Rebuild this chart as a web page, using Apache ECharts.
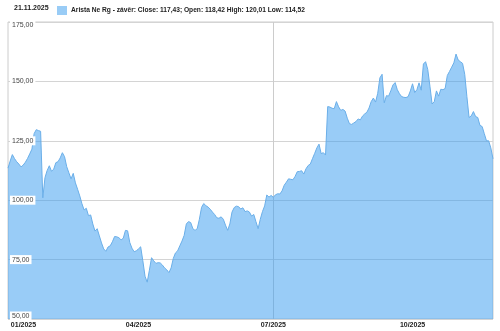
<!DOCTYPE html>
<html><head><meta charset="utf-8">
<script src="https://cdn.jsdelivr.net/npm/echarts@6/dist/echarts.min.js"></script>
<style>html,body{margin:0;padding:0;background:#fff}#c{width:500px;height:331px}</style>
</head><body><div id="c"></div>
<script>
const titleDate = '21.11.2025';
const seriesName = 'Arista Ne Rg - závěr: Close: 117,43; Open: 118,42 High: 120,01 Low: 114,52';
const firstDay = '2025-01-02';
const lastDay = '2025-11-21';
const marketHolidays = ['2025-01-09','2025-01-20','2025-02-17','2025-04-18','2025-05-26','2025-06-19','2025-07-04','2025-09-01'];
const labelMonths = ['01','04','07','10'];
const gridMonths = ['07'];
const closeValues = [
113.5,116.5,119.2,117.5,116.2,115.2,114.0,114.8,116.0,117.6,
119.5,121.5,128.0,129.7,129.3,129.0,101.0,109.5,112.5,114.5,
112.2,113.0,115.8,116.2,117.8,120.0,118.3,114.1,111.5,109.0,
111.3,107.3,104.6,101.8,98.5,95.9,96.6,93.5,93.8,90.0,
87.0,88.0,85.0,82.0,79.5,78.5,80.3,80.8,82.5,84.7,
84.6,84.2,83.3,84.0,87.3,87.1,82.2,79.8,78.3,78.7,
79.5,80.4,74.5,68.0,65.5,70.5,75.8,74.5,73.4,73.7,
73.6,72.7,71.5,70.7,69.5,71.5,75.5,77.8,78.7,80.8,
82.8,85.2,90.0,91.0,90.6,88.0,87.3,88.0,92.0,97.0,
98.6,97.7,97.1,96.2,95.0,94.0,92.6,92.4,93.0,92.0,
89.5,87.3,90.0,95.0,96.9,97.5,97.3,96.3,96.8,95.2,
95.5,95.0,93.3,94.0,91.0,88.0,92.0,95.2,97.6,102.2,
101.3,102.0,101.2,102.3,102.7,102.6,103.9,106.3,107.6,109.0,
108.8,108.6,110.0,112.0,112.1,112.4,111.0,113.2,114.6,115.2,
117.5,119.7,122.0,123.6,119.6,120.0,119.0,139.4,139.2,138.7,
138.5,141.5,139.3,137.8,138.2,137.5,134.5,132.2,131.9,132.5,
133.1,134.2,133.8,135.4,136.3,137.0,138.8,141.5,143.0,141.3,
145.0,151.5,153.0,141.0,144.0,143.8,146.0,148.5,149.5,146.5,
144.8,143.6,143.3,143.2,143.6,146.0,149.0,145.3,146.5,149.4,
146.3,157.3,158.3,155.0,148.0,140.5,141.5,146.0,143.8,146.7,
146.5,147.0,152.5,154.2,156.0,157.8,161.5,159.0,158.3,157.6,
153.0,143.6,134.8,135.5,137.3,135.2,134.8,131.5,131.0,128.0,
125.0,125.0,122.0,117.43];
const yMin = 50, yMax = 175, yStep = 25;

// trading-day categories
const dates = [];
(function(){
  let d = new Date(firstDay + 'T00:00:00Z');
  const end = new Date(lastDay + 'T00:00:00Z');
  while (d <= end) {
    const s = d.toISOString().slice(0,10);
    const wd = d.getUTCDay();
    if (wd !== 0 && wd !== 6 && marketHolidays.indexOf(s) < 0) dates.push(s);
    d = new Date(d.getTime() + 86400000);
  }
})();
function isMonthStart(i){ return i === 0 || dates[i].slice(5,7) !== dates[i-1].slice(5,7); }

const FONT = '"Liberation Sans", Arial, sans-serif';
const yLab = { fontFamily: FONT, fontSize: 7, color: '#444', backgroundColor: '#fff', padding: [1,2,1,2] };
const chart = echarts.init(document.getElementById('c'), null, {renderer:'canvas'});
chart.setOption({
  animation: false,
  title: { text: titleDate, left: 14, top: 5, padding: 0,
    textStyle: { fontFamily: FONT, fontSize: 7, fontWeight: 'bold', color: '#222' } },
  legend: { left: 57, top: 6, padding: 0, itemGap: 4, itemWidth: 10, itemHeight: 9,
    data: [{ name: seriesName, icon: 'rect', itemStyle: { color: '#99ccf6' } }],
    textStyle: { fontFamily: FONT, fontSize: 6.65, fontWeight: 'bold', color: '#222', padding: [0,0,0,-1] } },
  grid: { left: 8, right: 7, top: 22, bottom: 12, show: true, borderColor: '#cccccc', borderWidth: 1 },
  xAxis: {
    type: 'category', data: dates, boundaryGap: false,
    axisLine: { show: false }, axisTick: { show: false },
    splitLine: { show: true, interval: (i) => isMonthStart(i) && gridMonths.indexOf(dates[i].slice(5,7)) >= 0,
      lineStyle: { color: '#cccccc', width: 1 } },
    axisLabel: {
      interval: (i) => isMonthStart(i) && labelMonths.indexOf(dates[i].slice(5,7)) >= 0,
      margin: 3,
      formatter: (v, i) => {
        const t = v.slice(5,7) + '/' + v.slice(0,4);
        return i === 0 ? '{f|' + t + '}' : '{n|' + t + '}';
      },
      rich: {
        f: { fontFamily: FONT, fontSize: 7, fontWeight: 'bold', color: '#222', padding: [0,0,0,31] },
        n: { fontFamily: FONT, fontSize: 7, fontWeight: 'bold', color: '#222' }
      }
    }
  },
  yAxis: [{
    type: 'value', min: yMin, max: yMax, interval: yStep,
    axisLine: { show: false }, axisTick: { show: false }, axisLabel: { show: false },
    splitLine: { lineStyle: { color: '#d4d4d4', width: 1 } }
  }, {
    type: 'value', min: yMin, max: yMax, interval: yStep, position: 'left', z: 20,
    axisLine: { show: false }, axisTick: { show: false }, splitLine: { show: false },
    axisLabel: {
      inside: true, margin: 2,
      formatter: (v) => {
        const t = v.toFixed(2).replace('.', ',');
        if (v === yMin) return '{m|' + t + '}\n{s| }';
        if (v === yMax) return '{s| }\n{m|' + t + '}';
        return '{m|' + t + '}';
      },
      rich: {
        m: yLab,
        s: { fontSize: 1, height: 6, lineHeight: 6 }
      }
    }
  }],
  series: [{
    name: seriesName, type: 'line', data: closeValues, yAxisIndex: 0,
    symbol: 'none', smooth: false,
    lineStyle: { color: '#6aaee8', width: 1 },
    itemStyle: { color: '#99ccf6' },
    areaStyle: { color: 'rgba(51,153,240,0.5)', opacity: 1, origin: 'start' }
  }]
});
</script></body></html>
